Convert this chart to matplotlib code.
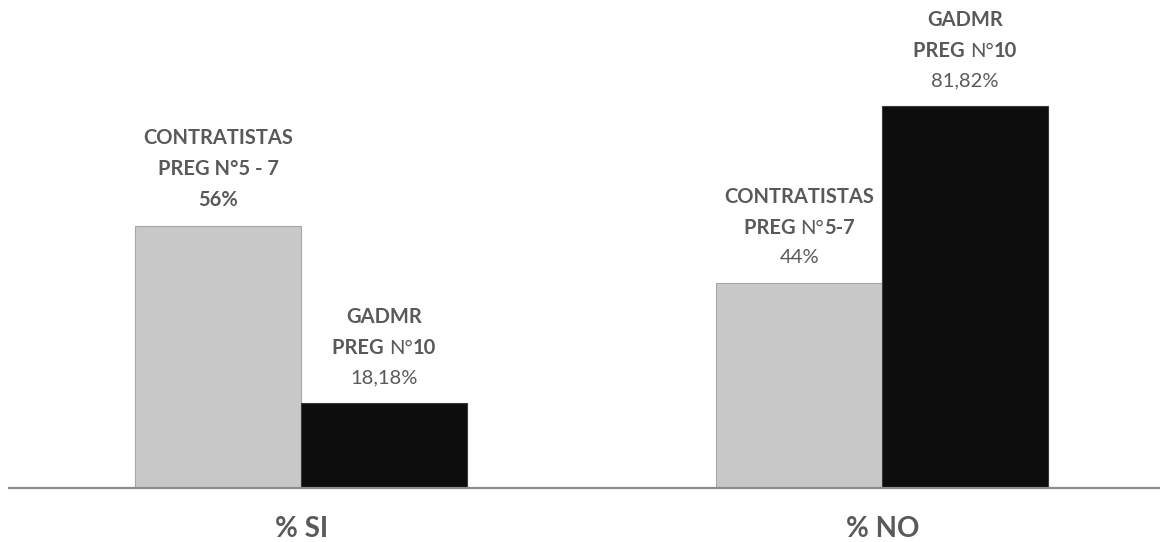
import matplotlib
matplotlib.use("Agg")
import matplotlib.pyplot as plt
from matplotlib.offsetbox import TextArea, HPacker, VPacker, AnnotationBbox

plt.rcParams['font.family'] = ['Lato', 'DejaVu Sans']

# --- data -------------------------------------------------------------
categories = ["% SI", "% NO"]
contratistas = [56, 44]
gadmr = [18.18, 81.82]

# label lines per bar: list of lines, each line a list of (text, bold) pieces
contratistas_lines = [
    [[("CONTRATISTAS", True)], [("PREG N°5 - 7", True)]],
    [[("CONTRATISTAS", True)], [("PREG ", True), ("N°", False), ("5-7", True)]],
]
gadmr_lines = [
    [[("GADMR", True)], [("PREG ", True), ("N°", False), ("10", True)]],
    [[("GADMR", True)], [("PREG ", True), ("N°", False), ("10", True)]],
]
contratistas_value_bold = [True, False]
gadmr_value_bold = [False, False]

# --- style ------------------------------------------------------------
TEXT_COLOR = "#595959"
GRAY = "#c8c8c8"
BLACK = "#0d0d0d"
AXIS_COLOR = "#8c8c8c"
LABEL_SIZE = 14.5
BAR_W = 0.2857


def fmt_pct(v):
    if float(v).is_integer():
        return f"{int(v)}%"
    return f"{v:.2f}".replace(".", ",") + "%"


def label_box(lines, value, value_bold):
    rows = []
    all_lines = lines + [[(fmt_pct(value), value_bold)]]
    for line in all_lines:
        pieces = [
            TextArea(txt, textprops=dict(color=TEXT_COLOR, fontsize=LABEL_SIZE,
                                         fontweight="bold" if b else "normal"))
            for txt, b in line
        ]
        rows.append(HPacker(children=pieces, align="baseline", pad=0, sep=0))
    return VPacker(children=rows, align="center", pad=0, sep=8.0)


fig = plt.figure(figsize=(11.6, 5.42), dpi=100)
ax = fig.add_axes([9 / 1160, 1 - 488 / 542, 1151 / 1160, 488 / 542])

x = list(range(len(categories)))
x_c = [i - BAR_W / 2 for i in x]
x_g = [i + BAR_W / 2 for i in x]

ax.bar(x_c, contratistas, width=BAR_W, color=GRAY, edgecolor="#a6a6a6",
       linewidth=0.8, zorder=2)
ax.bar(x_g, gadmr, width=BAR_W, color=BLACK, edgecolor="#3a3a3a",
       linewidth=0.8, zorder=2)

for xi, v, lines, vb in zip(x_c, contratistas, contratistas_lines, contratistas_value_bold):
    ab = AnnotationBbox(label_box(lines, v, vb), (xi, v), xybox=(0, 12),
                        xycoords="data", boxcoords="offset points",
                        box_alignment=(0.5, 0), frameon=False, pad=0)
    ax.add_artist(ab)
for xi, v, lines, vb in zip(x_g, gadmr, gadmr_lines, gadmr_value_bold):
    ab = AnnotationBbox(label_box(lines, v, vb), (xi, v), xybox=(0, 12),
                        xycoords="data", boxcoords="offset points",
                        box_alignment=(0.5, 0), frameon=False, pad=0)
    ax.add_artist(ab)

ax.set_xlim(-0.5026, 1.478)
ax.set_ylim(0, 104.5)

ax.set_xticks(x, categories)
ax.tick_params(axis="x", length=0, pad=20, labelsize=20, labelcolor=TEXT_COLOR)
for lbl in ax.get_xticklabels():
    lbl.set_fontweight("bold")
ax.set_yticks([])

for side in ("top", "right", "left"):
    ax.spines[side].set_visible(False)
ax.spines["bottom"].set_color(AXIS_COLOR)
ax.spines["bottom"].set_linewidth(1.6)
ax.spines["bottom"].set_zorder(3)

fig.savefig("out.png", dpi=100)
